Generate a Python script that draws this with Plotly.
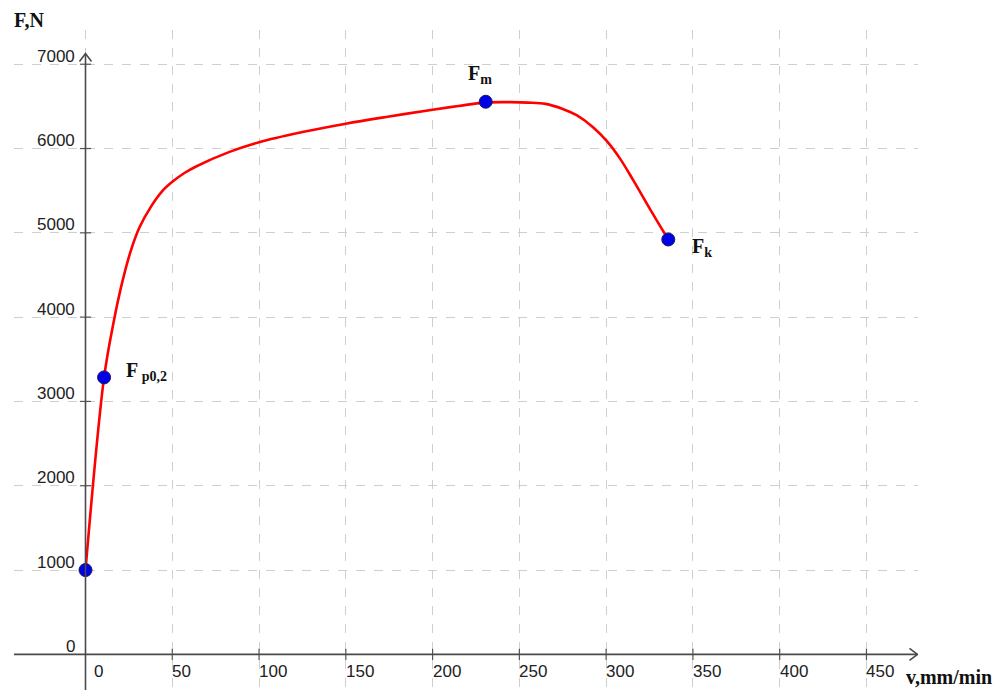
import plotly.graph_objects as go

# ---- data ----
curve_v = [0, 10.7, 16, 21, 26, 31, 38, 44, 50, 57, 64, 83, 100, 125, 150, 175, 200, 215, 230, 245, 255, 265, 275, 283, 292.6, 300.3, 308, 315.6, 325.2, 335.8]
curve_F = [1000, 3285, 3920, 4400, 4780, 5060, 5320, 5490, 5605, 5710, 5790, 5960, 6075, 6195, 6295, 6380, 6460, 6505, 6545, 6550, 6545, 6530, 6470, 6395, 6250, 6090, 5880, 5625, 5285, 4921]

point_v = [0, 10.7, 230.6, 335.8]
point_F = [1000, 3285, 6555, 4921]

label_names = ["F<sub> p0,2</sub>", "F<sub>m</sub>", "F<sub>k</sub>"]
label_v = [10.7, 230.6, 335.8]
label_F = [3285, 6555, 4921]

x_ticks = [0, 50, 100, 150, 200, 250, 300, 350, 400, 450]
y_ticks = [0, 1000, 2000, 3000, 4000, 5000, 6000, 7000]

x_title = "v,mm/min"
y_title = "F,N"

# ---- layout geometry (page has an 8px body margin) ----
W, H = 997, 682
ml, mr, mt, mb = 6, 87, 22, 0
xr = [-41.2, 479.7]
yr = [-423, 7406]

fig = go.Figure()

# curve
fig.add_trace(go.Scatter(x=curve_v, y=curve_F, mode="lines",
                         line=dict(color="#ff0000", width=2.6, shape="spline", smoothing=1.0),
                         hoverinfo="skip", showlegend=False))

# axis tick marks
fig.add_trace(go.Scatter(x=x_ticks[1:], y=[0] * (len(x_ticks) - 1), mode="markers",
                         marker=dict(symbol="line-ns", size=8, line=dict(color="#555", width=1.2)),
                         hoverinfo="skip", showlegend=False))
fig.add_trace(go.Scatter(x=[0] * (len(y_ticks) - 1), y=y_ticks[1:], mode="markers",
                         marker=dict(symbol="line-ew", size=8, line=dict(color="#555", width=1.2)),
                         hoverinfo="skip", showlegend=False))

# points
fig.add_trace(go.Scatter(x=point_v, y=point_F, mode="markers",
                         marker=dict(color="#0000e6", size=13, line=dict(color="#1a1a5a", width=1)),
                         hoverinfo="skip", showlegend=False))

# axes lines
axis_col = "#4a4a4a"
fig.add_shape(type="line", x0=xr[0], x1=xr[1] - 0.3, y0=0, y1=0, line=dict(color=axis_col, width=1.6))
fig.add_shape(type="line", x0=0, x1=0, y0=yr[0], y1=yr[1] - 280, line=dict(color=axis_col, width=1.6))
# arrow heads (pixel-sized chevrons anchored at axis ends)
fig.add_shape(type="path", xsizemode="pixel", ysizemode="pixel",
              xanchor=xr[1] - 0.3, yanchor=0,
              path="M -8 6 L 0 0 L -8 -6", line=dict(color=axis_col, width=1.6))
fig.add_shape(type="path", xsizemode="pixel", ysizemode="pixel",
              xanchor=0, yanchor=yr[1] - 280,
              path="M -6 -8 L 0 0 L 6 -8", line=dict(color=axis_col, width=1.6))

tick_font = dict(family="Liberation Sans, Arial, sans-serif", size=17, color="#222")
for v in x_ticks:
    fig.add_annotation(x=v, y=0, text=str(v), showarrow=False, xanchor="left", yanchor="middle",
                       xshift=6 if v == 0 else -2, yshift=-17, font=tick_font)
for f in y_ticks:
    fig.add_annotation(x=0, y=f, text=str(f), showarrow=False, xanchor="right", yanchor="middle",
                       xshift=-9, yshift=8, font=tick_font)

serif = dict(family="Liberation Serif, Times New Roman, serif", size=20, color="#111")
# point labels
offsets = [(20, 6), (-20, 27), (22, -8)]
for name, v, f, (dx, dy) in zip(label_names, label_v, label_F, offsets):
    fig.add_annotation(x=v, y=f, text="<b>" + name + "</b>",
                       showarrow=False, xanchor="left", yanchor="middle", xshift=dx, yshift=dy, font=serif)

# axis titles (positions in page pixels, converted to paper coords)
pw, ph = W - ml - mr, H - mt - mb
fig.add_annotation(xref="paper", yref="paper", x=(12 - 8 - ml) / pw, y=(H - (20 - 8) - mb) / ph,
                   text="<b>" + y_title + "</b>", showarrow=False, xanchor="left", yanchor="middle", font=serif)
fig.add_annotation(xref="paper", yref="paper", x=(904 - 8 - ml) / pw, y=(H - (677 - 8) - mb) / ph,
                   text="<b>" + x_title + "</b>", showarrow=False, xanchor="left", yanchor="middle", font=serif)

grid_col = "#cfcfcf"
fig.update_xaxes(range=xr, showgrid=True, gridcolor=grid_col, griddash="dash", gridwidth=1.3,
                 tick0=0, dtick=50, showticklabels=False, zeroline=False, showline=False, ticks="")
fig.update_yaxes(range=yr, showgrid=True, gridcolor=grid_col, griddash="dash", gridwidth=1.3,
                 tick0=0, dtick=1000, showticklabels=False, zeroline=False, showline=False, ticks="")

fig.update_layout(width=W, height=H, margin=dict(l=ml, r=mr, t=mt, b=mb, pad=0),
                  plot_bgcolor="white", paper_bgcolor="white", showlegend=False)

fig.write_html("out.html")
